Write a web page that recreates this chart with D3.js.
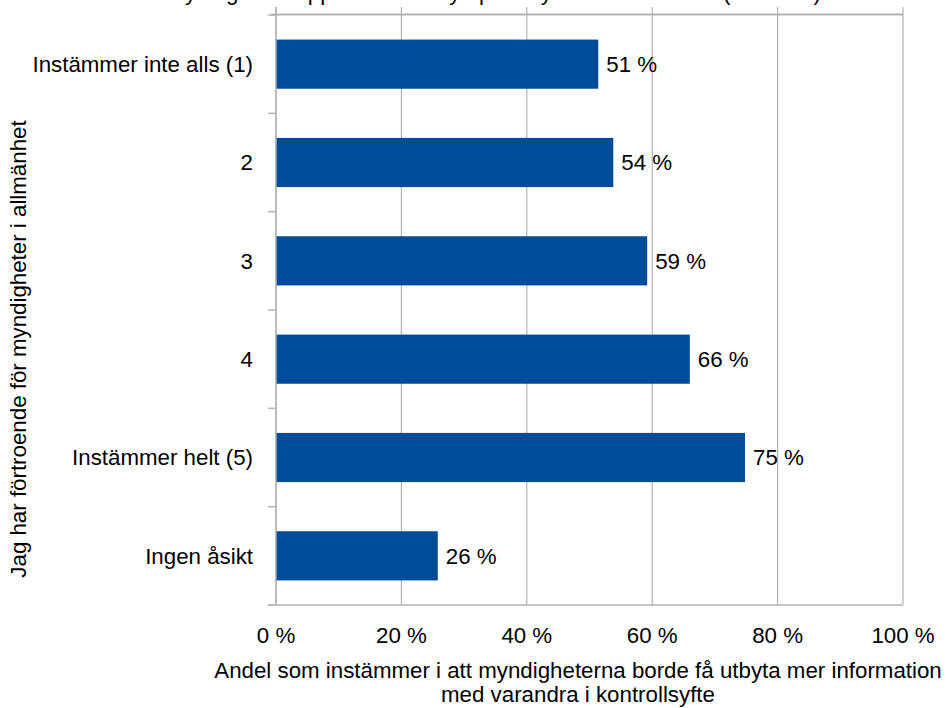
<!DOCTYPE html>
<html><head><meta charset="utf-8">
<script src="https://cdn.jsdelivr.net/npm/d3@7"></script>
<style>body{margin:0;background:#fff}svg{display:block}text{font-family:"Liberation Sans",Arial,sans-serif;fill:#000}</style>
</head><body><svg id="c" width="946" height="708"></svg>
<script>
const categories = ["Instämmer inte alls (1)", "2", "3", "4", "Instämmer helt (5)", "Ingen åsikt"];
const values = [51.4, 53.8, 59.2, 66.0, 74.8, 25.8];
const valueLabels = ["51 %", "54 %", "59 %", "66 %", "75 %", "26 %"];
const xTicks = [0, 20, 40, 60, 80, 100];
const xTickLabels = ["0 %", "20 %", "40 %", "60 %", "80 %", "100 %"];
const title = "Förtroende för myndigheter uppdelat efter syn på utbyte av information (alla svar)";
const yTitle = "Jag har förtroende för myndigheter i allmänhet";
const xTitle = ["Andel som instämmer i att myndigheterna borde få utbyta mer information", "med varandra i kontrollsyfte"];

const FS = 22.3;
const svg = d3.select("#c");
const x = d3.scaleLinear().domain([0, 100]).range([276, 903]);
const y = d3.scaleBand().domain(categories).range([15, 605]).paddingInner(0.5).paddingOuter(0.25);
const grid = "#b3b3b3";

// title (cut off at the top edge, as in the reference)
svg.append("text").attr("x", 420).attr("y", 0).attr("text-anchor", "middle")
  .attr("font-size", FS).text(title);

// vertical gridlines
svg.append("g").selectAll("line").data(xTicks).join("line")
  .attr("x1", d => x(d)).attr("x2", d => x(d)).attr("y1", 7).attr("y2", 605)
  .attr("stroke", grid).attr("stroke-width", 1.2);
// top border
svg.append("line").attr("x1", 271).attr("x2", x(100)).attr("y1", 14.5).attr("y2", 14.5)
  .attr("stroke", grid).attr("stroke-width", 2);

// bars
svg.append("g").selectAll("rect").data(values).join("rect")
  .attr("x", x(0)).attr("y", (d, i) => y(categories[i]))
  .attr("width", d => x(d) - x(0)).attr("height", y.bandwidth())
  .attr("fill", "#004c99");

// left axis with boundary ticks
const step = y.step();
const bounds = d3.range(categories.length + 1).map(k => 15 + k * step);
svg.append("line").attr("x1", x(0)).attr("x2", x(0)).attr("y1", 7).attr("y2", 605)
  .attr("stroke", grid).attr("stroke-width", 1.5);
svg.append("g").selectAll("line").data(bounds).join("line")
  .attr("x1", 268).attr("x2", x(0)).attr("y1", d => d).attr("y2", d => d)
  .attr("stroke", grid).attr("stroke-width", 1.5);
// bottom axis
svg.append("line").attr("x1", 268).attr("x2", x(100)).attr("y1", 605).attr("y2", 605)
  .attr("stroke", grid).attr("stroke-width", 1.5);

// category labels
svg.append("g").selectAll("text").data(categories).join("text")
  .attr("x", 253).attr("y", d => y(d) + y.bandwidth() / 2).attr("dy", "0.35em")
  .attr("text-anchor", "end").attr("font-size", FS).text(d => d);

// value labels
svg.append("g").selectAll("text").data(values).join("text")
  .attr("x", d => x(d) + 8).attr("y", (d, i) => y(categories[i]) + y.bandwidth() / 2).attr("dy", "0.35em")
  .attr("font-size", FS).text((d, i) => valueLabels[i]);

// x tick labels
svg.append("g").selectAll("text").data(xTicks).join("text")
  .attr("x", d => x(d)).attr("y", 635).attr("dy", "0.35em")
  .attr("text-anchor", "middle").attr("font-size", FS).text((d, i) => xTickLabels[i]);

// axis titles
svg.append("text").attr("transform", "translate(18,349) rotate(-90)").attr("dy", "0.35em")
  .attr("text-anchor", "middle").attr("font-size", FS).text(yTitle);
svg.append("g").selectAll("text").data(xTitle).join("text")
  .attr("x", 578).attr("y", (d, i) => 670 + i * 24).attr("dy", "0.35em")
  .attr("text-anchor", "middle").attr("font-size", FS).text(d => d);
</script></body></html>
